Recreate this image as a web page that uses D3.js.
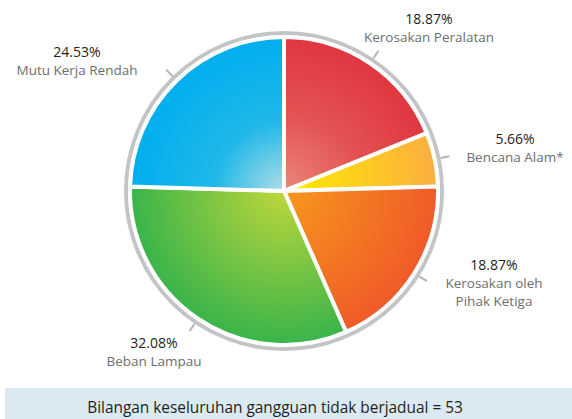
<!DOCTYPE html>
<meta charset="utf-8">
<script src="https://d3js.org/d3.v7.min.js"></script>
<style>
  body { margin: 0; background: #fff; }
  text { font-family: "Open Sans", Lato, sans-serif; }
</style>
<body>
<div id="pie_chart"></div>
<script>

    // data, clockwise from 12 o'clock
    var categories = ["Kerosakan Peralatan", "Bencana Alam*", "Kerosakan oleh Pihak Ketiga", "Beban Lampau", "Mutu Kerja Rendah"];
    var labelLines = [["Kerosakan Peralatan"], ["Bencana Alam*"], ["Kerosakan oleh", "Pihak Ketiga"], ["Beban Lampau"], ["Mutu Kerja Rendah"]];
    var counts = [10, 3, 10, 17, 13];
    var innerColors = ["#ea8778", "#ffec00", "#f7981d", "#bdd63c", "#b0dde6"];
    var outerColors = ["#e0363f", "#fbaf3f", "#f05a28", "#39b44a", "#00aeef"];
    var footerLabel = "Bilangan keseluruhan gangguan tidak berjadual";

    // label anchors (centre x, first baseline)
    var labelPos = [[429, 24], [515, 144], [494, 270], [154, 348], [77, 57]];

    var width = 572, height = 419;
    var cx = 284, cy = 191, radius = 154, ringR = 158;

    var svg = d3.select("#pie_chart")
      .append("svg")
        .attr("width", width)
        .attr("height", height);

    var total = d3.sum(counts);

    var defs = svg.append("defs");
    categories.forEach(function(c, i) {
      var g = defs.append("radialGradient")
          .attr("id", "grad" + i)
          .attr("gradientUnits", "userSpaceOnUse")
          .attr("cx", 0).attr("cy", 0).attr("r", radius);
      g.append("stop").attr("offset", "0%").attr("stop-color", innerColors[i]);
      if (i == 4) {
        g.append("stop").attr("offset", "45%").attr("stop-color", "#20b8e8");
      }
      if (i == 0) {
        g.append("stop").attr("offset", "50%").attr("stop-color", "#e35352");
      }
      g.append("stop").attr("offset", "100%").attr("stop-color", outerColors[i]);
    });

    var chart = svg.append("g")
        .attr("transform", "translate(" + cx + "," + cy + ")");

    // grey outer ring
    chart.append("circle")
        .attr("r", ringR)
        .attr("fill", "none")
        .attr("stroke", "#c3c4c6")
        .attr("stroke-width", 4);

    var pie = d3.pie().sort(null).value(function(d) { return d; });
    var arcs = pie(counts);

    var arc = d3.arc().innerRadius(0).outerRadius(radius);

    chart.selectAll("path.slice")
      .data(arcs)
      .enter()
      .append("path")
        .attr("class", "slice")
        .attr("d", arc)
        .attr("fill", function(d, i) { return "url(#grad" + i + ")"; })
        .attr("stroke", "#fff")
        .attr("stroke-width", 4)
        .attr("stroke-linejoin", "miter");

    // leader ticks
    chart.selectAll("line.tick")
      .data(arcs)
      .enter()
      .append("line")
        .attr("class", "tick")
        .attr("x1", function(d) { return Math.sin((d.startAngle + d.endAngle) / 2) * (ringR + 2); })
        .attr("y1", function(d) { return -Math.cos((d.startAngle + d.endAngle) / 2) * (ringR + 2); })
        .attr("x2", function(d) { return Math.sin((d.startAngle + d.endAngle) / 2) * (ringR + 11); })
        .attr("y2", function(d) { return -Math.cos((d.startAngle + d.endAngle) / 2) * (ringR + 11); })
        .attr("stroke", "#b5b6b8")
        .attr("stroke-width", 2);

    // labels
    var labels = svg.selectAll("g.label")
      .data(arcs)
      .enter()
      .append("g")
        .attr("class", "label")
        .attr("transform", function(d, i) { return "translate(" + labelPos[i][0] + "," + labelPos[i][1] + ")"; });

    labels.append("text")
        .attr("text-anchor", "middle")
        .attr("font-size", "14px")
        .attr("fill", "#231f20")
        .text(function(d) { return (d.value / total * 100).toFixed(2) + "%"; });

    labels.each(function(d, i) {
      var g = d3.select(this);
      labelLines[i].forEach(function(line, j) {
        g.append("text")
            .attr("y", 18 * (j + 1))
            .attr("text-anchor", "middle")
            .attr("font-size", "13.5px")
            .attr("fill", "#6d6e71")
            .text(line);
      });
    });

    // footer banner
    svg.append("rect")
        .attr("x", 5)
        .attr("y", 388)
        .attr("width", width - 5)
        .attr("height", height - 388)
        .attr("fill", "#dbe9f2");

    svg.append("text")
        .attr("x", 275)
        .attr("y", 413)
        .attr("text-anchor", "middle")
        .attr("font-size", "15.4px")
        .attr("fill", "#231f20")
        .text(footerLabel + " = " + total);

</script>
</body>
